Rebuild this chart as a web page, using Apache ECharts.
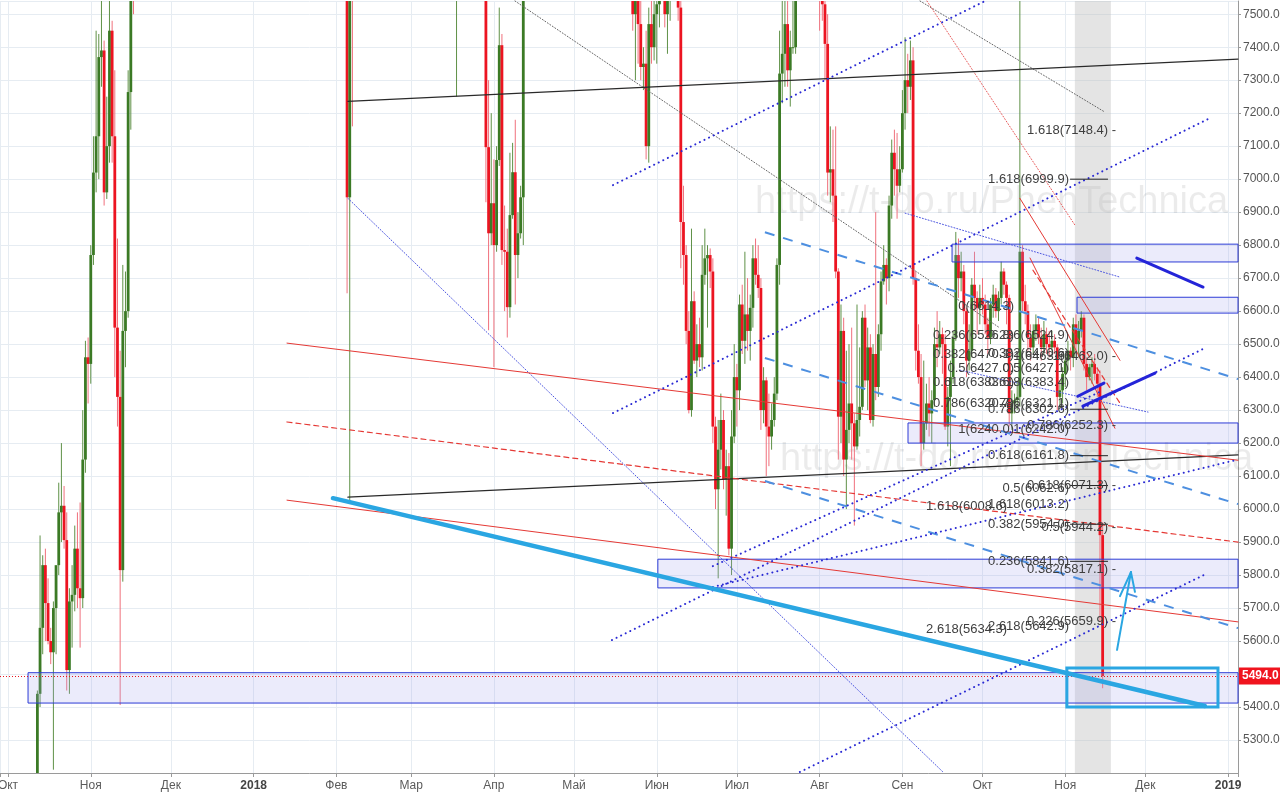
<!DOCTYPE html>
<html><head><meta charset="utf-8">
<script src="https://cdn.jsdelivr.net/npm/echarts@6.0.0/dist/echarts.min.js"></script>
<style>html,body{margin:0;padding:0;background:#fff}#c{width:1280px;height:794px}</style>
</head><body><div id="c"></div>
<script>
// ---- daily candles [open, high, low, close], one array per month ----
const oct17=[[4330,4400,4200,4390],[4390,4470,4360,4400],[4400,4440,4230,4310],[4310,4350,4170,4220],[4220,4360,4160,4330],[4330,4440,4310,4380],[4380,4460,4330,4440],[4440,4620,4420,4600],[4600,4820,4570,4780],[4780,4920,4720,4770],[4770,4880,4740,4830],[4830,5450,4820,5440],[5440,5920,5400,5640],[5640,5860,5560,5830],[5830,5880,5600,5715],[5715,5790,5590,5600],[5600,5640,5530,5566],[5566,5720,5210,5700],[5700,5780,5560,5830],[5830,6080,5800,5990],[5990,6200,5900,6010],[6010,6070,5880,5906],[5906,5990,5450,5512],[5512,5760,5440,5720],[5720,5830,5580,5740],[5740,5950,5690,5880],[5880,5990,5700,5760],[5760,6020,5580,5730],[5730,6300,5700,6150],[6150,6510,6110,6460],[6460,6520,6320,6440]];
const nov17=[[6440,6800,6380,6770],[6770,7130,6740,7020],[7020,7450,6960,7130],[7130,7440,7000,7370],[7370,7600,7280,7390],[7390,7420,6920,6960],[6960,7250,6940,7100],[7100,7840,7050,7450],[7450,7480,7050,7130],[7130,7330,6400,6550],[6550,6820,6250,6340],[6340,6480,5406,5815],[5815,6740,5780,6540],[6540,6720,6430,6600],[6600,7330,6580,7264],[7264,7980,7150,7850],[7850,8000,7500,7700],[7700,7850,7550,7790],[7790,8100,7650,8040],[8040,8300,7950,8250],[8250,8380,7850,8100],[8100,8300,8090,8240],[8240,8280,8000,8040],[8040,8350,7950,8250],[8250,8750,8150,8740],[8740,9500,8700,9300],[9300,9800,9300,9750],[9750,10000,9650,9900],[9900,11400,9000,9850],[9850,10700,9200,9950]];
const dec17=[[9950,10900,9450,10850],[10850,11200,10700,10900],[10900,11800,10600,11250],[11250,11600,10900,11600],[11600,11900,11450,11700],[11700,14000,11700,13700],[13700,17000,13600,16500],[16500,17200,13800,15800],[15800,16300,14200,14600],[14600,15700,13000,15200],[15200,17300,15200,16700],[16700,17500,16300,17300],[17300,17400,16000,16400],[16400,16900,16000,16500],[16500,18000,16400,17600],[17600,19500,17500,19200],[19200,19900,18800,19000],[19000,19100,17300,18900],[18900,19000,16500,17500],[17500,17900,15200,16100],[16100,17200,14200,15700],[15700,15800,11100,13800],[13800,15500,13700,14400],[14400,14500,12500,13900],[13900,14500,13100,13900],[13900,16400,13600,15800],[15800,16500,14600,15400],[15400,15500,13600,14400],[14400,15200,14000,14600],[14600,14700,12500,12800],[12800,14300,12500,13850]];
const jan18=[[13850,13900,12800,13400],[13400,15400,12900,14800],[14800,15500,14600,15100],[15100,15400,14000,15100],[15100,17200,14700,16900],[16900,17200,16200,17000],[17000,17100,15800,16200],[16200,16300,13900,14900],[14900,15300,14300,14500],[14500,14800,13100,14700],[14700,14900,12800,13200],[13200,14000,12700,13800],[13800,14600,13800,14200],[14200,14400,13000,13600],[13600,14300,13400,13600],[13600,13600,10800,11400],[11400,11700,9200,11100],[11100,12000,10400,11200],[11200,11800,11000,11500],[11500,13000,11500,12800],[12800,12800,11200,11500],[11500,11900,10100,10800],[10800,11300,10000,10900],[10900,11500,10600,11400],[11400,11700,10900,11200],[11200,11600,10400,11100],[11100,11600,10900,11500],[11500,12000,11400,11800],[11800,11800,11100,11200],[11200,11200,9900,10100],[10100,10300,9700,10200]];
const feb18=[[10200,10200,8800,9100],[9100,9100,7800,8800],[8800,9400,8200,9200],[9200,9400,7900,8200],[8200,8400,6654,6945],[6945,7850,6018,7700],[7700,8500,7160,7600],[7600,8600,7600,8250],[8250,8700,7800,8650],[8650,9000,8200,8500],[8500,8500,7900,8100],[8100,8900,8100,8850],[8850,8900,8300,8550],[8550,9500,8550,9450],[9450,10200,9400,10000],[10000,10300,9700,10150],[10150,11100,10100,11100],[11100,11200,10200,10400],[10400,11300,10400,11150],[11150,11800,11100,11200],[11200,11300,10200,10400],[10400,10900,9800,9850],[9850,10400,9600,10200],[10200,10500,9400,9700],[9700,9900,9300,9600],[9600,10400,9400,10300],[10300,10900,10200,10700],[10700,11100,10300,10350]];
const mar18=[[10350,11000,10300,10900],[10900,11200,10800,11000],[11000,11500,11000,11450],[11450,11500,11100,11500],[11500,11700,11400,11450],[11450,11450,10500,10700],[10700,10900,9400,9900],[9900,10100,9100,9300],[9300,9400,8300,9250],[9250,9500,8700,8800],[8800,9700,8500,9550],[9550,9900,8800,9150],[9150,9450,8900,9150],[9150,9350,7950,8200],[8200,8400,7700,8250],[8250,8600,7900,8280],[8280,8350,7800,7870],[7870,8300,7250,8200],[8200,8700,8100,8600],[8600,9050,8300,8900],[8900,9150,8800,8900],[8900,9100,8500,8700],[8700,8900,8300,8900],[8900,9000,8500,8550],[8550,8700,8400,8450],[8450,8500,7850,8150],[8150,8200,7750,7800],[7800,8100,7750,7950],[7950,7970,6930,7097],[7097,7300,6542,6836],[6836,7200,6800,6927]];
const apr18=[[6927,7060,6430,6800],[6800,7100,6780,7058],[7058,7520,7040,7406],[7406,7440,6740,6785],[6785,6920,6600,6780],[6780,6850,6520,6612],[6612,7080,6580,6891],[6891,7110,6880,7021],[7021,7180,6620,6770],[6770,6900,6700,6836],[6836,6980,6820,6945],[6945,8000,6800,7920],[7920,8250,7750,7890],[7890,8150,7850,8000],[8000,8400,8000,8350],[8350,8400,7900,8050],[8050,8200,7850,7900],[7900,8250,7880,8160],[8160,8300,8080,8270],[8270,8900,8200,8850],[8850,9000,8600,8900],[8900,9000,8800,8800],[8800,9000,8800,8950],[8950,9700,8900,9650],[9650,9750,8700,8860],[8860,9300,8700,9280],[9280,9400,8900,8950],[8950,9450,8900,9350],[9350,9500,9200,9400],[9400,9400,9100,9250]];
const may18=[[9250,9250,8800,9080],[9080,9250,8950,9220],[9220,9800,9150,9750],[9750,9800,9550,9700],[9700,9950,9700,9850],[9850,9950,9500,9650],[9650,9650,9200,9370],[9370,9470,9050,9200],[9200,9350,8900,9300],[9300,9380,8950,9000],[9000,9000,8400,8450],[8450,8650,8200,8500],[8500,8750,8350,8700],[8700,8850,8300,8680],[8680,8850,8450,8480],[8480,8500,8150,8340],[8340,8480,8050,8070],[8070,8250,7950,8230],[8230,8350,8150,8220],[8220,8550,8200,8520],[8520,8550,8350,8400],[8400,8420,7970,8000],[8000,8050,7450,7500],[7500,7700,7300,7580],[7580,7620,7350,7470],[7470,7600,7300,7340],[7340,7400,7270,7350],[7350,7450,7060,7100],[7100,7520,7050,7470],[7470,7580,7350,7400],[7400,7600,7360,7500]];
const jun18=[[7500,7600,7350,7530],[7530,7700,7460,7640],[7640,7780,7600,7720],[7720,7760,7460,7500],[7500,7660,7380,7630],[7630,7700,7480,7660],[7660,7760,7620,7690],[7690,7700,7540,7620],[7620,7700,7480,7520],[7520,7580,6730,6870],[6870,6980,6680,6770],[6770,6800,6500,6540],[6540,6600,6290,6300],[6300,6850,6280,6630],[6630,6660,6440,6450],[6450,6560,6400,6500],[6500,6580,6430,6460],[6460,6800,6420,6710],[6710,6850,6680,6760],[6760,6800,6550,6770],[6770,6790,6670,6720],[6720,6760,6200,6250],[6250,6280,6000,6060],[6060,6270,5790,6180],[6180,6350,6120,6270],[6270,6300,6060,6090],[6090,6180,5980,6130],[6130,6170,5860,5880],[5880,6300,5800,6220],[6220,6500,6200,6400]];
const jul18=[[6400,6440,6250,6360],[6360,6650,6300,6620],[6620,6680,6470,6510],[6510,6780,6440,6590],[6590,6700,6480,6540],[6540,6650,6450,6610],[6610,6800,6550,6760],[6760,6820,6680,6710],[6710,6800,6640,6670],[6670,6700,6240,6300],[6300,6430,6260,6390],[6390,6400,6100,6250],[6250,6350,6130,6220],[6220,6320,6180,6270],[6270,6400,6250,6350],[6350,6760,6330,6740],[6740,7450,6680,7320],[7320,7580,7230,7380],[7380,7560,7280,7470],[7470,7700,7280,7330],[7330,7450,7220,7400],[7400,7580,7380,7400],[7400,7800,7380,7720],[7720,8450,7700,8400],[8400,8480,8080,8180],[8180,8300,7860,7950],[7950,8270,7800,8200],[8200,8250,8080,8220],[8220,8300,8130,8210],[8210,8280,7850,8180],[8180,8200,7650,7730]];
const aug18=[[7730,7750,7450,7600],[7600,7720,7480,7530],[7530,7550,7300,7410],[7410,7500,6950,7020],[7020,7160,6930,7030],[7030,7150,6870,6950],[6950,7160,6700,6720],[6720,6730,6150,6280],[6280,6620,6200,6540],[6540,6580,6100,6150],[6150,6480,6000,6240],[6240,6500,6200,6320],[6320,6550,6150,6260],[6260,6290,5950,6190],[6190,6620,6180,6270],[6270,6490,6220,6310],[6310,6600,6300,6580],[6580,6620,6370,6390],[6390,6550,6300,6490],[6490,6530,6260,6270],[6270,6500,6250,6470],[6470,6900,6330,6370],[6370,6560,6340,6530],[6530,6720,6480,6690],[6690,6800,6680,6740],[6740,6760,6620,6700],[6700,6950,6660,6920],[6920,7120,6880,7080],[7080,7150,6950,7030],[7030,7140,6880,6980],[6980,7100,6960,7030]];
const sep18=[[7030,7270,7020,7200],[7200,7430,7150,7300],[7300,7380,7200,7280],[7280,7420,7240,7360],[7360,7400,6680,6700],[6700,6720,6420,6480],[6480,6560,6380,6400],[6400,6470,6130,6200],[6200,6450,6180,6260],[6260,6380,6240,6320],[6320,6400,6220,6290],[6290,6360,6200,6330],[6330,6550,6310,6500],[6500,6600,6430,6490],[6490,6570,6470,6530],[6530,6550,6410,6500],[6500,6530,6240,6250],[6250,6370,6190,6340],[6340,6450,6130,6400],[6400,6540,6380,6520],[6520,6840,6510,6770],[6770,6820,6640,6700],[6700,6780,6660,6720],[6720,6740,6560,6600],[6600,6610,6400,6450],[6450,6560,6420,6480],[6480,6700,6460,6680],[6680,6780,6600,6640],[6640,6660,6530,6610],[6610,6680,6560,6640]];
const oct18=[[6640,6700,6590,6620],[6620,6650,6530,6560],[6560,6580,6470,6520],[6520,6640,6500,6620],[6620,6680,6580,6650],[6650,6670,6580,6600],[6600,6660,6570,6640],[6640,6750,6620,6720],[6720,6730,6650,6680],[6680,6690,6560,6640],[6640,6650,6250,6290],[6290,6360,6240,6320],[6320,6350,6290,6330],[6330,6390,6300,6340],[6340,7700,6310,6780],[6780,6800,6600,6630],[6630,6680,6560,6600],[6600,6620,6480,6520],[6520,6560,6450,6490],[6490,6560,6470,6540],[6540,6590,6510,6560],[6560,6580,6500,6520],[6520,6550,6450,6490],[6490,6570,6470,6530],[6530,6550,6470,6500],[6500,6540,6460,6490],[6490,6540,6480,6510],[6510,6530,6470,6490],[6490,6500,6300,6340],[6340,6390,6310,6360],[6360,6430,6320,6410]];
const nov18=[[6410,6470,6370,6450],[6450,6510,6420,6480],[6480,6490,6420,6460],[6460,6580,6430,6560],[6560,6590,6470,6500],[6500,6570,6460,6540],[6540,6600,6520,6580],[6580,6590,6420,6440],[6440,6460,6360,6400],[6400,6440,6390,6430],[6430,6460,6380,6440],[6440,6470,6390,6410],[6410,6430,6340,6380],[6380,6420,5660,5921],[5921,5960,5457,5494]];
const candleMonths=[[2017,9,oct17],[2017,10,nov17],[2017,11,dec17],[2018,0,jan18],[2018,1,feb18],[2018,2,mar18],[2018,3,apr18],[2018,4,may18],[2018,5,jun18],[2018,6,jul18],[2018,7,aug18],[2018,8,sep18],[2018,9,oct18],[2018,10,nov18]];

// ---- drawings: [[dayOffset from 2017-10-01, value], [dayOffset, value]] ----
const thickBlueLine=[[[121.7,6033],[448.3,5403]]];
const blackLines=[[[127.3,7236],[460.7,7364]],[[127.3,6036],[460.7,6164]]];
const redLines=[[[104.5,6503],[460.7,6148]],[[104.5,6027],[460.7,5658]],[[379.0,6942],[416.5,6451]],[[382.8,6761],[414.6,6245]]];
const redDashedLines=[[[104.5,6264],[460.7,5900]],[[383.9,6724],[416.5,6321]]];
const redDottedLines=[[[344.2,7540],[399.6,6861]]];
const blueDottedLines=[[[226.6,6982],[366.0,7540]],[[226.6,6291],[450.2,7185]],[[226.2,5603],[448.3,6488]],[[296.6,5203],[449.4,5806]],[[264.0,5764],[459.6,6148]],[[264.0,5827],[409.0,6355]]];
const thinDottedBlue=[[[127.3,6942],[350.2,5203]],[[336.0,6897],[416.5,6703]],[[356.6,6421],[427.0,6294]]];
const grayDotted=[[[189.9,7540],[371.5,6549]],[[341.6,7540],[410.9,7203]]];
const blueDashedLines=[[[283.5,6839],[460.7,6394]],[[283.5,6458],[460.7,6015]],[[283.5,6085],[460.7,5639]]];
const thickDarkBlue=[[[422.8,6761],[447.6,6673]],[[400.7,6342],[410.5,6382]],[[402.6,6312],[429.6,6412]]];
const cyanArrow=[[[415.4,5573],[420.6,5809]],[[416.5,5736],[420.6,5809]],[[422.1,5749],[420.6,5809]]];
const levelValues=[6999.9,6161.8,6071.3,5954.0,5841.6,6302.6];
const levelSpan=[397.8,412.0];
const lavenderBoxes=[[[7.5,5504],[460.7,5412]],[[243.4,5848],[460.7,5761]],[[337.1,6261],[460.7,6200]],[[353.6,6803],[460.7,6749]],[[400.4,6642],[460.7,6594]]];
const cyanBox=[[[396.6,5518],[453.2,5400]]];
const grayBand=[[[399.6,7540],[413.1,5200]]];

// ---- fib labels [value, text], right-aligned at a day offset ----
const fibA={right:376.8,labels:[[6614.3,'0(6614.3)'],[6526.8,'0.236(6526.8)'],[6470.1,'0.382(6470.1)'],[6427.0,'0.5(6427.0)'],[6383.6,'0.618(6383.6)'],[6320.7,'0.786(6320.7)'],[6240.0,'1(6240.0)']]};
const fibB={right:397.4,labels:[[6999.9,'1.618(6999.9)'],[6524.9,'0.236(6524.9)'],[6470.6,'0.382(6470.6)'],[6463.6,'1(6463.6)'],[6427.1,'0.5(6427.1)'],[6383.4,'0.618(6383.4)'],[6321.1,'0.786(6321.1)'],[6302.6,'0.786(6302.6)'],[6242.0,'1(6242.0)'],[6161.8,'0.618(6161.8)'],[6062.6,'0.5(6062.6)'],[6013.2,'1.618(6013.2)'],[5954.0,'0.382(5954.0)'],[5841.6,'0.236(5841.6)'],[5642.9,'2.618(5642.9)']]};
const fibC={right:415.0,labels:[[7148.4,'1.618(7148.4) -'],[6462.0,'1(6462.0) -'],[6252.3,'0.786(6252.3) -'],[6071.3,'0.618(6071.3) -'],[5944.2,'0.5(5944.2) -'],[5817.1,'0.382(5817.1) -'],[5659.9,'0.226(5659.9) -']]};
const fibD={right:374.2,labels:[[6008.6,'1.618(6008.6)'],[5634.3,'2.618(5634.3)']]};

const monthNames=['Янв','Фев','Мар','Апр','Май','Июн','Июл','Авг','Сен','Окт','Ноя','Дек'];
const watermark='https://t-do.ru/PhenTechnica';

// ---- build ----
const DAY=86400000;
const T0=new Date(2017,9,1).getTime();
const dt=d=>T0+d*DAY;
const FONT='"Liberation Sans", Arial, sans-serif';

const candles=[];
candleMonths.forEach(([y,m,rows])=>rows.forEach((r,i)=>candles.push([new Date(y,m,i+1).getTime(),r[0],r[1],r[2],r[3]])));
const lastClose=candles[candles.length-1][4];

function clampY(p,y){return Math.max(p.coordSys.y,Math.min(p.coordSys.y+p.coordSys.height,y));}

const candleSeries={
  type:'custom',coordinateSystem:'cartesian2d',silent:true,z:3,
  data:candles,encode:{x:0,y:[1,2,3,4]},
  renderItem:(p,api)=>{
    const t=api.value(0),o=api.value(1),h=api.value(2),l=api.value(3),c=api.value(4);
    const x=api.coord([t,o])[0];
    const yO=clampY(p,api.coord([t,o])[1]),yC=clampY(p,api.coord([t,c])[1]);
    const yH=clampY(p,api.coord([t,h])[1]),yL=clampY(p,api.coord([t,l])[1]);
    const up=c>=o;
    const ch=[];
    if(yL-yH>0.1) ch.push({type:'line',shape:{x1:x,y1:yH,x2:x,y2:yL},style:{stroke:up?'#5f9147':'#f0707c',lineWidth:1}});
    const top=Math.min(yO,yC),bh=Math.abs(yO-yC);
    const inside=!(Math.max(yO,yC)<=p.coordSys.y||Math.min(yO,yC)>=p.coordSys.y+p.coordSys.height);
    if(inside) ch.push({type:'rect',shape:{x:x-1.4,y:top,width:2.8,height:Math.max(1,bh)},style:{fill:up?'#3b7a25':'#ec1421'}});
    return {type:'group',children:ch};
  }
};

function segSeries(segs,style,z){
  return {type:'custom',coordinateSystem:'cartesian2d',silent:true,z:z||5,
    data:segs.map(s=>[dt(s[0][0]),s[0][1],dt(s[1][0]),s[1][1]]),
    encode:{x:[0,2],y:[1,3]},
    renderItem:(p,api)=>{
      const a=api.coord([api.value(0),api.value(1)]),b=api.coord([api.value(2),api.value(3)]);
      return {type:'line',shape:{x1:a[0],y1:a[1],x2:b[0],y2:b[1]},style:Object.assign({fill:null,lineCap:'round'},style)};
    }};
}
function rectSeries(rects,style,z){
  return {type:'custom',coordinateSystem:'cartesian2d',silent:true,z:z||4,
    data:rects.map(r=>[dt(r[0][0]),r[0][1],dt(r[1][0]),r[1][1]]),
    encode:{x:[0,2],y:[1,3]},
    renderItem:(p,api)=>{
      const a=api.coord([api.value(0),api.value(1)]),b=api.coord([api.value(2),api.value(3)]);
      return {type:'rect',shape:{x:Math.min(a[0],b[0]),y:Math.min(a[1],b[1]),width:Math.abs(b[0]-a[0]),height:Math.abs(b[1]-a[1])},style:style};
    }};
}
function textSeries(fib){
  return {type:'custom',coordinateSystem:'cartesian2d',silent:true,z:7,
    data:fib.labels.map(l=>[dt(fib.right),l[0]]),encode:{x:0,y:1},
    renderItem:(p,api)=>{
      const a=api.coord([api.value(0),api.value(1)]);
      return {type:'text',x:a[0],y:a[1],style:{text:fib.labels[p.dataIndex][1],align:'right',verticalAlign:'middle',font:'13px '+FONT,fill:'#3e3e3e'}};
    }};
}
const levelSegs=levelValues.map(v=>[[levelSpan[0],v],[levelSpan[1],v]]);

const series=[
  rectSeries(grayBand,{fill:'rgba(190,190,190,0.42)'},2),
  candleSeries,
  rectSeries(lavenderBoxes,{fill:'rgba(165,165,235,0.22)',stroke:'#2c3bd6',lineWidth:1},4),
  segSeries(grayDotted,{stroke:'#666',lineWidth:1,lineDash:[1,2]}),
  segSeries(redDottedLines,{stroke:'#e85a5a',lineWidth:1,lineDash:[1,2]}),
  segSeries(thinDottedBlue,{stroke:'#4b55e0',lineWidth:1,lineDash:[1,2]}),
  segSeries(blackLines,{stroke:'#2a2a2a',lineWidth:1.2}),
  segSeries(redLines,{stroke:'#e53935',lineWidth:1}),
  segSeries(redDashedLines,{stroke:'#e53935',lineWidth:1.2,lineDash:[5,4]}),
  segSeries(blueDashedLines,{stroke:'#4d8fe0',lineWidth:2,lineDash:[10,9],lineCap:'butt'}),
  segSeries(blueDottedLines,{stroke:'#2a2ad4',lineWidth:2,lineDash:[0.1,5]}),
  segSeries(thickDarkBlue,{stroke:'#2424d8',lineWidth:3}),
  segSeries(levelSegs,{stroke:'#222',lineWidth:1,lineCap:'butt'}),
  segSeries(thickBlueLine,{stroke:'#2aa6e2',lineWidth:4.5},6),
  rectSeries(cyanBox,{fill:null,stroke:'#2aa6e2',lineWidth:3},6),
  segSeries(cyanArrow,{stroke:'#2aa6e2',lineWidth:2},6),
  textSeries(fibA),textSeries(fibB),textSeries(fibC),textSeries(fibD),
  {type:'line',data:[[dt(-3),lastClose]],showSymbol:false,silent:true,z:8,lineStyle:{opacity:0},
   markLine:{silent:true,symbol:['none','none'],animation:false,
     lineStyle:{color:'#e8141e',type:[1,2],width:1},
     label:{show:true,position:'end',distance:1,formatter:()=>lastClose.toFixed(1),backgroundColor:'#f0141e',color:'#fff',fontWeight:'bold',fontSize:12,fontFamily:FONT,padding:[3,4,2,3]},
     data:[{yAxis:lastClose}]}}
];

const chart=echarts.init(document.getElementById('c'),null,{renderer:'canvas'});
chart.setOption({
  animation:false,
  backgroundColor:'#ffffff',
  grid:{left:0,right:42,top:1,bottom:21,containLabel:false,outerBoundsMode:'none'},
  xAxis:{type:'time',min:dt(-3),max:dt(460.7),splitNumber:16,minInterval:27*DAY,maxInterval:31*DAY,
    axisLine:{lineStyle:{color:'#9a9a9a'}},axisTick:{show:true,length:4,lineStyle:{color:'#9a9a9a'}},
    splitLine:{show:true,lineStyle:{color:'#e6ecf2',width:1}},
    axisLabel:{color:'#5a5a5a',fontSize:12,fontFamily:FONT,margin:7,hideOverlap:false,showMinLabel:true,showMaxLabel:true,
      formatter:(v)=>{const d=new Date(v);if(d.getDate()!==1)return '';if(d.getMonth()===0)return '{yr|'+d.getFullYear()+'}';return monthNames[d.getMonth()];},
      rich:{yr:{fontWeight:'bold',color:'#444',fontSize:12,fontFamily:FONT}}}},
  yAxis:{type:'value',position:'right',min:5200,max:7540,interval:100,scale:true,
    axisLine:{show:true,lineStyle:{color:'#9a9a9a'}},axisTick:{show:true,length:3,lineStyle:{color:'#9a9a9a'}},
    splitLine:{show:true,lineStyle:{color:'#e6ecf2',width:1}},
    axisLabel:{color:'#555',fontSize:12,fontFamily:FONT,margin:5,showMinLabel:false,showMaxLabel:false,formatter:v=>v.toFixed(1)}},
  graphic:[
    {type:'text',left:755,top:184,silent:true,z:1,style:{text:watermark,font:'38px '+FONT,fill:'rgba(0,0,0,0.08)'}},
    {type:'text',left:780,top:441,silent:true,z:1,style:{text:watermark,font:'38px '+FONT,fill:'rgba(0,0,0,0.08)'}}
  ],
  series:series
});
</script></body></html>
